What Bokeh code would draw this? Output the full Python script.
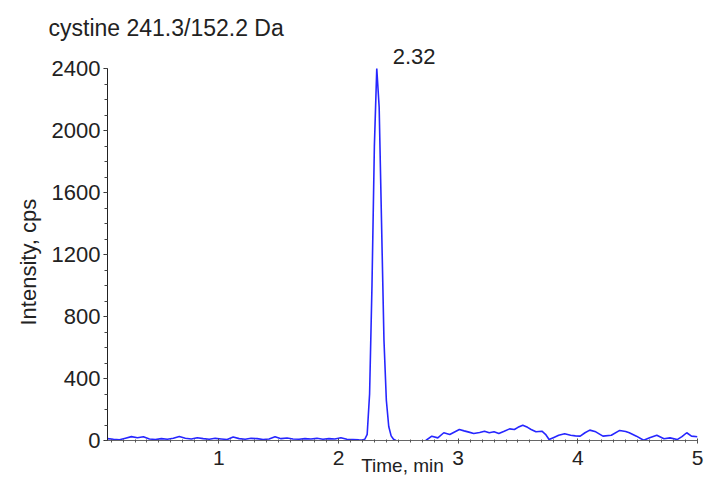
from bokeh.plotting import figure
from bokeh.models import Range1d, FixedTicker, Label, Title
from bokeh.embed import file_html
from bokeh.resources import INLINE

# ---- data ----
time_min = [
    0.07, 0.12, 0.17, 0.22, 0.27, 0.32, 0.37, 0.42, 0.47, 0.52, 0.57, 0.62, 0.67, 0.72,
    0.77, 0.82, 0.87, 0.92, 0.97, 1.02, 1.07, 1.12, 1.17, 1.22, 1.27, 1.32, 1.37, 1.42,
    1.47, 1.52, 1.57, 1.62, 1.67, 1.72, 1.77, 1.82, 1.87, 1.92, 1.97, 2.02, 2.07, 2.12,
    2.17,
    2.20, 2.22, 2.24, 2.26, 2.28, 2.30, 2.32, 2.34, 2.36, 2.38, 2.40, 2.42, 2.44, 2.46,
    2.48, 2.50,
    2.55, 2.60, 2.65, 2.70, 2.73, 2.78, 2.83, 2.88, 2.93, 2.97, 3.01, 3.05, 3.09, 3.13,
    3.18, 3.22, 3.26, 3.30, 3.34, 3.38, 3.43, 3.47, 3.50, 3.54, 3.58, 3.61, 3.65, 3.70,
    3.73, 3.76, 3.80, 3.84, 3.89, 3.94, 3.98, 4.02, 4.06, 4.10, 4.15, 4.21, 4.28, 4.35,
    4.40, 4.43, 4.49, 4.55, 4.60, 4.66, 4.72, 4.77, 4.83, 4.87, 4.91, 4.95, 5.00,
]
intensity_cps = [
    12, 8, 5, 15, 25, 18, 24, 10, 6, 12, 8, 14, 26, 15,
    10, 18, 12, 8, 14, 10, 6, 22, 12, 8, 14, 12, 6, 10,
    24, 12, 16, 10, 8, 12, 10, 14, 8, 12, 10, 18, 8, 6,
    4,
    3, 8, 40, 300, 1000, 1900, 2400, 2150, 1400, 650, 260, 90, 30, 8,
    0, -4,
    -5, -3, -5, -2, 0, 28, 17, 50, 39, 55, 71, 62, 54, 45,
    52, 60, 50, 56, 45, 58, 75, 71, 85, 99, 85, 71, 56, 60,
    40, 6, 20, 34, 43, 34, 30, 28, 50, 67, 56, 28, 34, 65,
    58, 50, 28, 2, 17, 34, 11, 17, 6, 25, 50, 28, 24,
]
y_ticks = [0, 400, 800, 1200, 1600, 2000, 2400]
y_minor = list(range(0, 2401, 100))
x_ticks = [1, 2, 3, 4, 5]
x_minor = [round(0.1 * i, 1) for i in range(1, 51)]

title_text = "cystine 241.3/152.2 Da"
peak_time = 2.32
peak_label = "2.32"
x_title = "Time, min"
y_title = "Intensity, cps"

FONT = "Liberation Sans"
INK = "#222222"

p = figure(width=706, height=484, output_backend="svg", toolbar_location=None,
           x_range=Range1d(0.07, 5.0), y_range=Range1d(0, 2581),
           min_border_left=107, min_border_right=9, min_border_top=40,
           min_border_bottom=44)
p.outline_line_color = None
p.grid.visible = False
p.background_fill_color = "white"
p.border_fill_color = "white"

p.title.text = title_text
p.title.align = "left"
p.title.offset = -59
p.title.standoff = 0
p.title.text_font = FONT
p.title.text_font_size = "23px"
p.title.text_font_style = "normal"
p.title.text_color = INK

p.line(time_min, intensity_cps, line_color="#2626ff", line_width=1.6)

# y axis
ya = p.yaxis[0]
ya.ticker = FixedTicker(ticks=y_ticks, minor_ticks=y_minor)
ya.bounds = (0, 2400)
ya.axis_line_color = INK
ya.major_tick_line_color = INK
ya.minor_tick_line_color = "#444444"
ya.major_tick_out = 4
ya.major_tick_in = 0
ya.minor_tick_out = 3
ya.minor_tick_in = 0
ya.major_label_standoff = 3
ya.major_label_text_font = FONT
ya.major_label_text_font_size = "22px"
ya.major_label_text_color = INK

# vertical axis title, placed beside the lower-middle part of the axis
p.add_layout(Title(text=y_title, align="left", offset=115, standoff=16,
                   text_font=FONT, text_font_size="22px",
                   text_font_style="normal", text_color=INK), "left")

# x axis
xa = p.xaxis[0]
xa.ticker = FixedTicker(ticks=x_ticks, minor_ticks=x_minor)
xa.axis_line_color = "#666666"
xa.major_tick_line_color = "#444444"
xa.minor_tick_line_color = "#555555"
xa.major_tick_out = 3
xa.major_tick_in = 2
xa.minor_tick_out = 2
xa.minor_tick_in = 1
xa.major_label_standoff = 7
xa.major_label_text_font = FONT
xa.major_label_text_font_size = "21px"
xa.major_label_text_color = INK
xa.axis_label = x_title
xa.axis_label_text_font = FONT
xa.axis_label_text_font_size = "19px"
xa.axis_label_text_font_style = "normal"
xa.axis_label_text_color = INK
xa.axis_label_standoff = -13

# retention-time label next to the peak apex
p.add_layout(Label(x=peak_time, y=2475, x_offset=16, text=peak_label,
                   text_font=FONT, text_font_size="22px", text_color=INK,
                   text_align="left", text_baseline="middle"))

open("out.html", "w").write(file_html(p, INLINE))
